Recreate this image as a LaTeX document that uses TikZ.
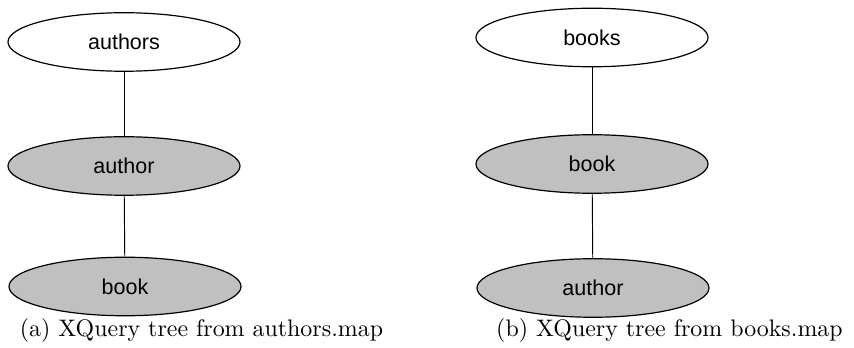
\documentclass[tikz,border=0pt]{standalone}
\usepackage{fontspec}
\newfontfamily\arialfont{Liberation Sans}
\usetikzlibrary{shapes.geometric}
\definecolor{nodegray}{RGB}{192,192,192}

\begin{document}
\begin{tikzpicture}[x=0.0147cm, y=-0.0147cm,
    elem/.style={ellipse, draw, line width=0.5pt, inner sep=0pt,
      minimum width=3.41cm, minimum height=0.86cm,
      font=\arialfont\fontsize{9}{11}\selectfont},
    sel/.style={elem, fill=nodegray},
    subcap/.style={font=\fontsize{10}{12}\selectfont, inner sep=0pt}]
    \useasboundingbox (0,0) rectangle (854,348);
    % (a) authors.map
    \node[elem] (authors) at (124,42) {authors};
    \node[sel] (authorA) at (124,166) {author};
    \node[sel] (bookA) at (125,286.5) {book};
    \draw (authors) -- (authorA);
    \draw (authorA) -- (bookA);
    \node[subcap] (capA) at (201.5,331) {(a) XQuery tree from authors.map};
    % (b) books.map
    \node[elem] (books) at (592,37.5) {books};
    \node[sel] (bookB) at (592,164) {book};
    \node[sel] (authorB) at (593,288) {author};
    \draw (books) -- (bookB);
    \draw (bookB) -- (authorB);
    \node[subcap] (capB) at (669.5,331) {(b) XQuery tree from books.map};
\end{tikzpicture}
\end{document}
